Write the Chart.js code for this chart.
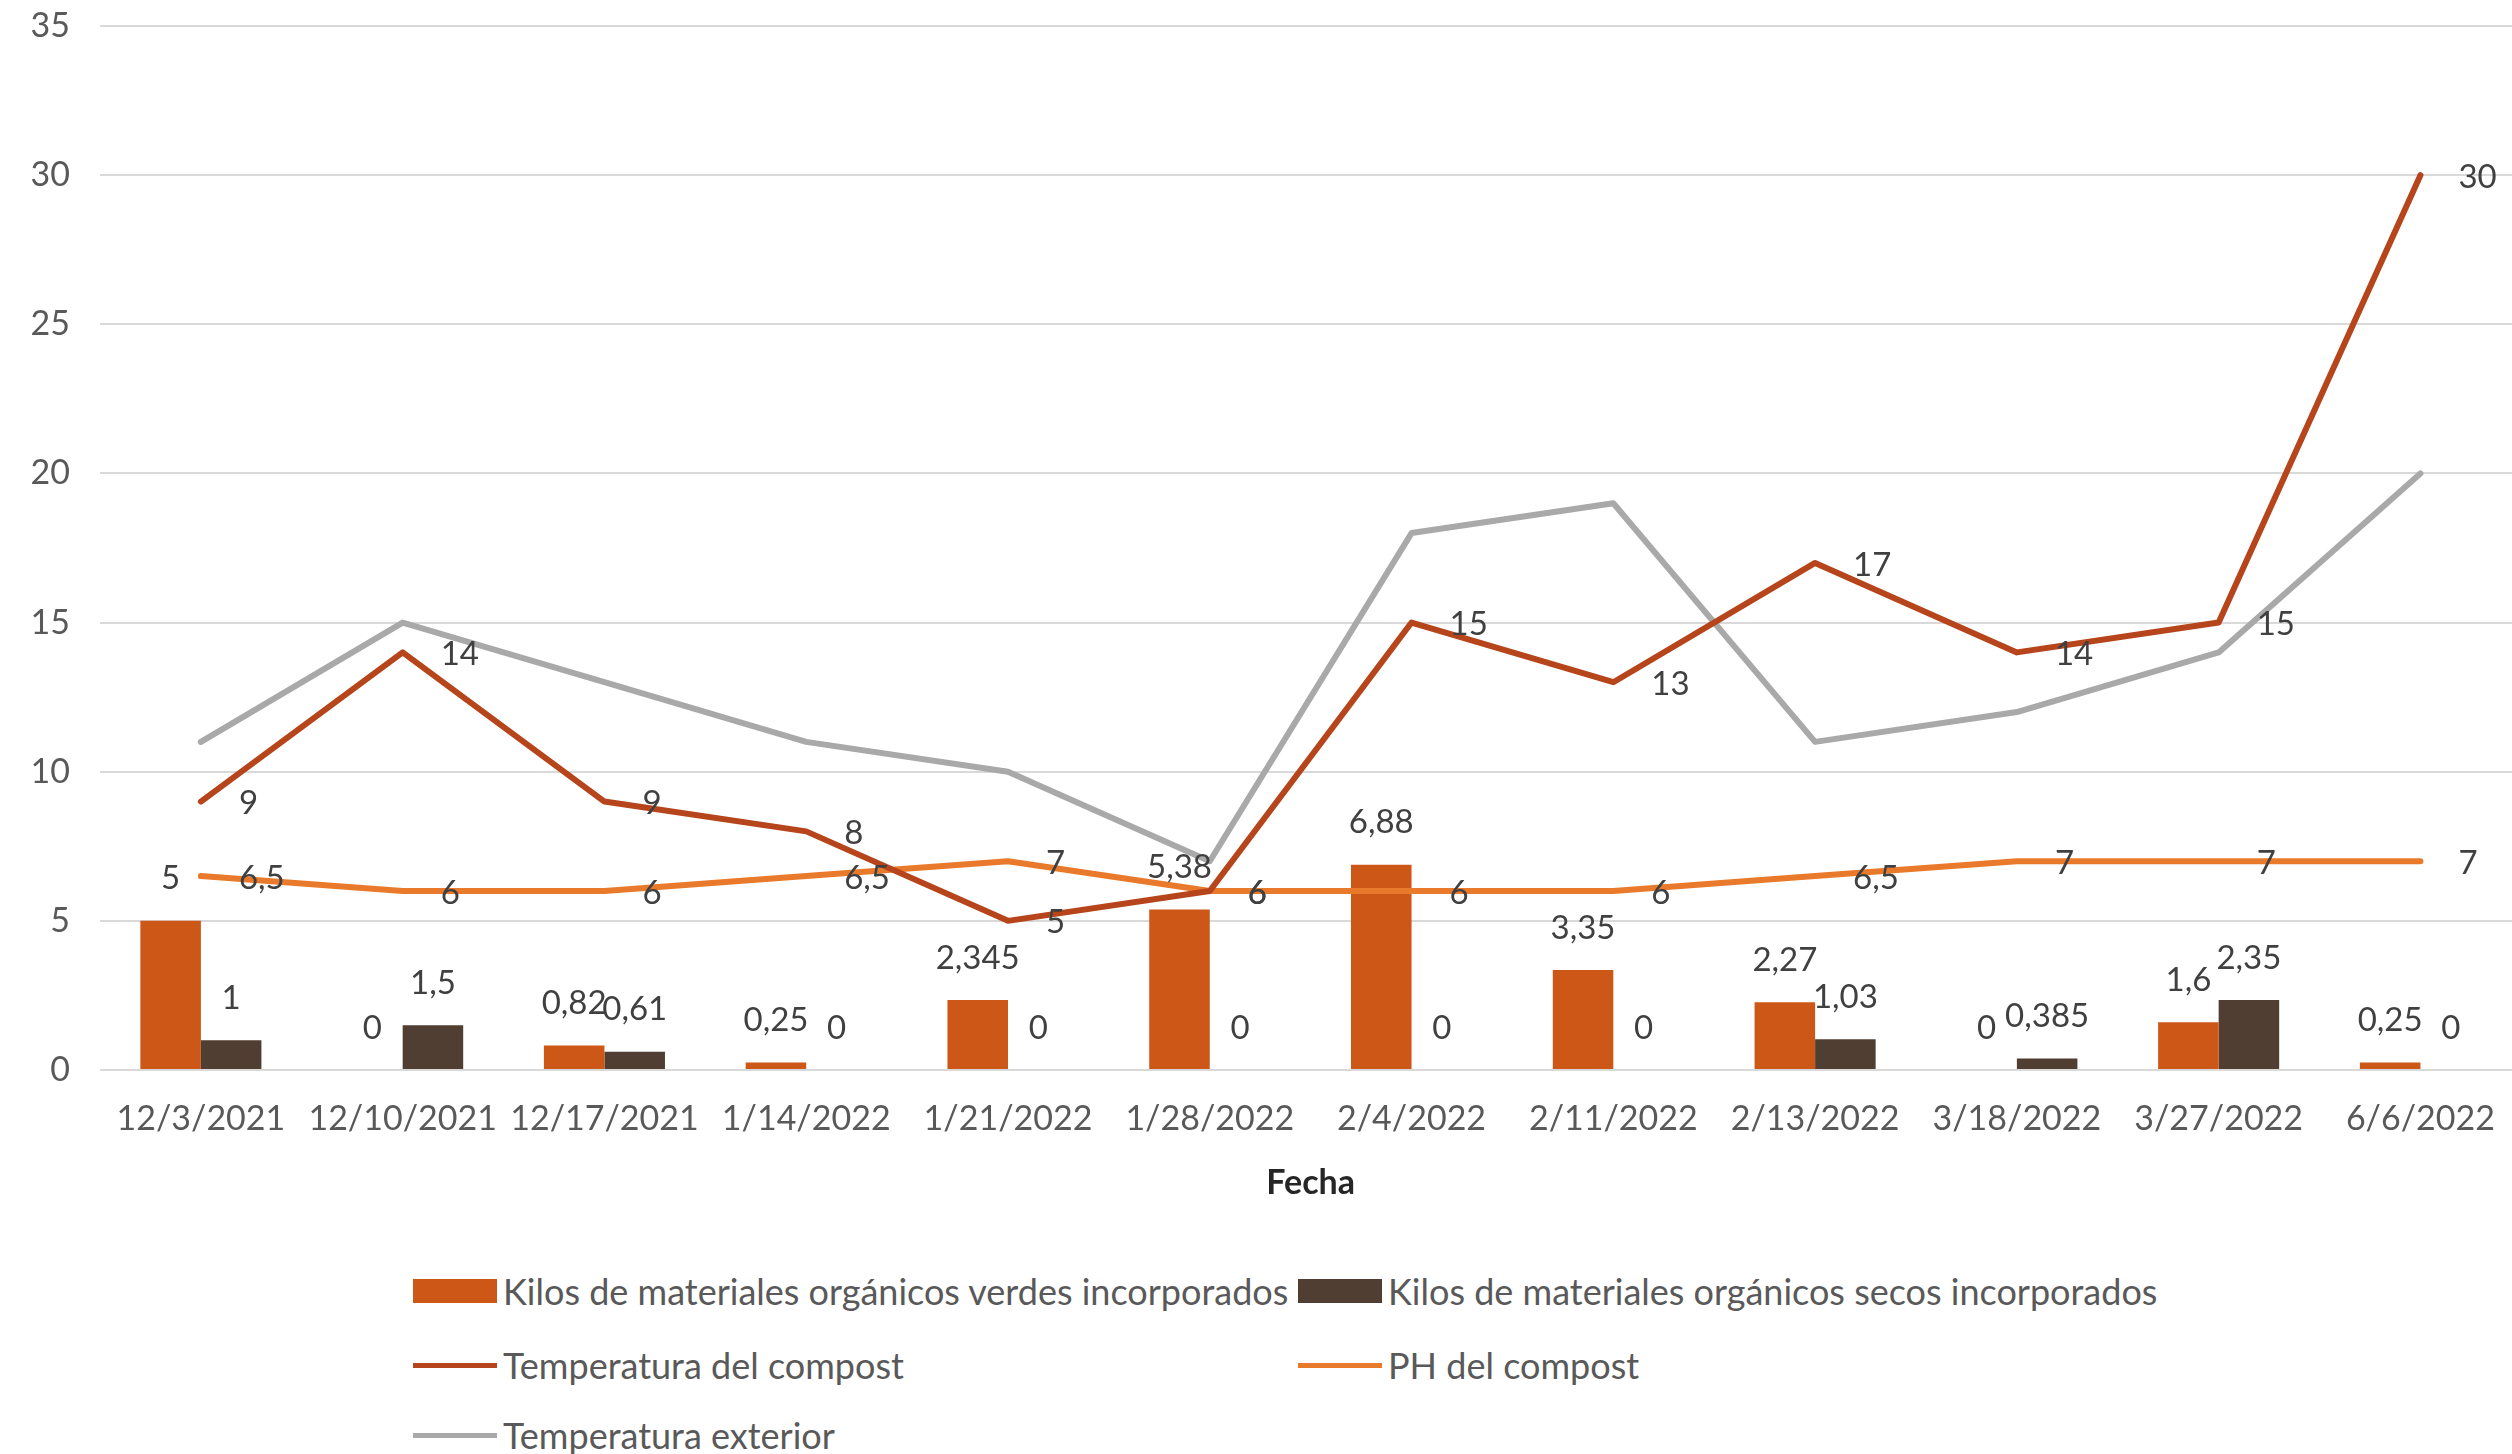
<!DOCTYPE html>
<html>
<head>
<meta charset="utf-8">
<script src="https://cdn.jsdelivr.net/npm/chart.js@4.4.1/dist/chart.umd.min.js"></script>
<style>
  html, body { margin: 0; padding: 0; background: #fff; overflow: hidden; }
  #wrap { position: relative; width: 2512px; height: 1454px; overflow: hidden; }
  #chart { position: absolute; left: 0; top: 0; }
  #legend { font-family: Lato, sans-serif; font-size: 36px; color: #595959; }
  .item { position: absolute; display: flex; align-items: center; white-space: nowrap; height: 44px; }
  .sw { display: inline-block; margin-right: 6px; }
</style>
</head>
<body>
<div id="wrap">
  <canvas id="chart" width="2524" height="1212"></canvas>
  <div id="legend"></div>
</div>
<script>
// datos
const fechas = ["12/3/2021", "12/10/2021", "12/17/2021", "1/14/2022", "1/21/2022", "1/28/2022",
                "2/4/2022", "2/11/2022", "2/13/2022", "3/18/2022", "3/27/2022", "6/6/2022"];
const verdes = [5, 0, 0.82, 0.25, 2.345, 5.38, 6.88, 3.35, 2.27, 0, 1.6, 0.25];
const secos = [1, 1.5, 0.61, 0, 0, 0, 0, 0, 1.03, 0.385, 2.35, 0];
const tempCompost = [9, 14, 9, 8, 5, 6, 15, 13, 17, 14, 15, 30];
const phCompost = [6.5, 6, 6, 6.5, 7, 6, 6, 6, 6.5, 7, 7, 7];
const tempExterior = [11, 15, 13, 11, 10, 7, 18, 19, 11, 12, 14, 20];
const yMin = 0, yMax = 35, yPaso = 5;

const nombres = [
  "Kilos de materiales orgánicos verdes incorporados",
  "Kilos de materiales orgánicos secos incorporados",
  "Temperatura del compost",
  "PH del compost",
  "Temperatura exterior"
];

const colores = ["#CC5716", "#503E32", "#B6451B", "#EA7A2B", "#A9A9A9"];

// etiquetas de valores (como en Excel)
const etiquetas = {
  id: "etiquetas",
  afterDatasetsDraw(chart) {
    const ctx = chart.ctx;
    ctx.save();
    ctx.font = "33px Lato";
    ctx.fillStyle = "#404040";
    ctx.textBaseline = "middle";
    chart.data.datasets.forEach((ds, i) => {
      if (!ds.etiqueta) return;
      const meta = chart.getDatasetMeta(i);
      meta.data.forEach((el, j) => {
        const txt = String(ds.data[j]).replace(".", ",");
        if (ds.etiqueta === "arriba") {
          ctx.textAlign = "center";
          ctx.fillText(txt, el.x, el.y - 42);
        } else {
          ctx.textAlign = "left";
          ctx.fillText(txt, el.x + 38, el.y + 2);
        }
      });
    });
    ctx.restore();
  }
};

const linea = (label, data, color, etiqueta) => ({
  type: "line", label, data, etiqueta,
  borderColor: color, backgroundColor: color,
  borderWidth: 6, pointRadius: 0, tension: 0,
  borderJoinStyle: "round", borderCapStyle: "round", order: 1
});

const ctx = document.getElementById("chart").getContext("2d");
const chart = new Chart(ctx, {
  type: "bar",
  data: {
    labels: fechas,
    datasets: [
      { label: nombres[0], data: verdes, backgroundColor: colores[0], etiqueta: "arriba",
        categoryPercentage: 0.6, barPercentage: 1.0, order: 2 },
      { label: nombres[1], data: secos, backgroundColor: colores[1], etiqueta: "arriba",
        categoryPercentage: 0.6, barPercentage: 1.0, order: 2 },
      linea(nombres[2], tempCompost, colores[2], "derecha"),
      linea(nombres[3], phCompost, colores[3], "derecha"),
      linea(nombres[4], tempExterior, colores[4], null)
    ]
  },
  options: {
    responsive: false,
    animation: false,
    layout: { padding: { top: 26, right: 1, bottom: 9, left: 0 } },
    plugins: { legend: { display: false }, tooltip: { enabled: false } },
    scales: {
      x: {
        afterFit(scale) { scale.height = 133; },
        grid: { display: false, drawTicks: false },
        border: { display: false },
        ticks: { font: { family: "Lato", size: 34 }, color: "#595959", padding: 29, maxRotation: 0 },
        title: { display: true, text: "Fecha", font: { family: "Lato", size: 34, weight: "bold" },
                 color: "#262626", padding: { top: 22, bottom: 0 } }
      },
      y: {
        min: yMin, max: yMax,
        afterFit(scale) { scale.width = 100; },
        grid: { color: "#D9D9D9", lineWidth: 2, drawTicks: true, tickLength: 28, tickColor: "rgba(0,0,0,0)" },
        border: { display: false },
        ticks: { stepSize: yPaso, font: { family: "Lato", size: 34 }, color: "#595959", padding: 2 }
      }
    }
  },
  plugins: [etiquetas]
});

// leyenda en dos columnas
const legend = document.getElementById("legend");
const colX = [413, 1298];
const filaY = [1291, 1365, 1435];
chart.data.datasets.forEach((ds, i) => {
  const item = document.createElement("div");
  item.className = "item";
  item.style.left = colX[i % 2] + "px";
  item.style.top = (filaY[Math.floor(i / 2)] - 22) + "px";
  const sw = document.createElement("span");
  sw.className = "sw";
  if (ds.type === "line") {
    sw.style.width = "84px"; sw.style.height = "5px";
  } else {
    sw.style.width = "84px"; sw.style.height = "24px";
  }
  sw.style.background = ds.type === "line" ? ds.borderColor : ds.backgroundColor;
  item.appendChild(sw);
  item.appendChild(document.createTextNode(ds.label));
  legend.appendChild(item);
});
</script>
</body>
</html>
